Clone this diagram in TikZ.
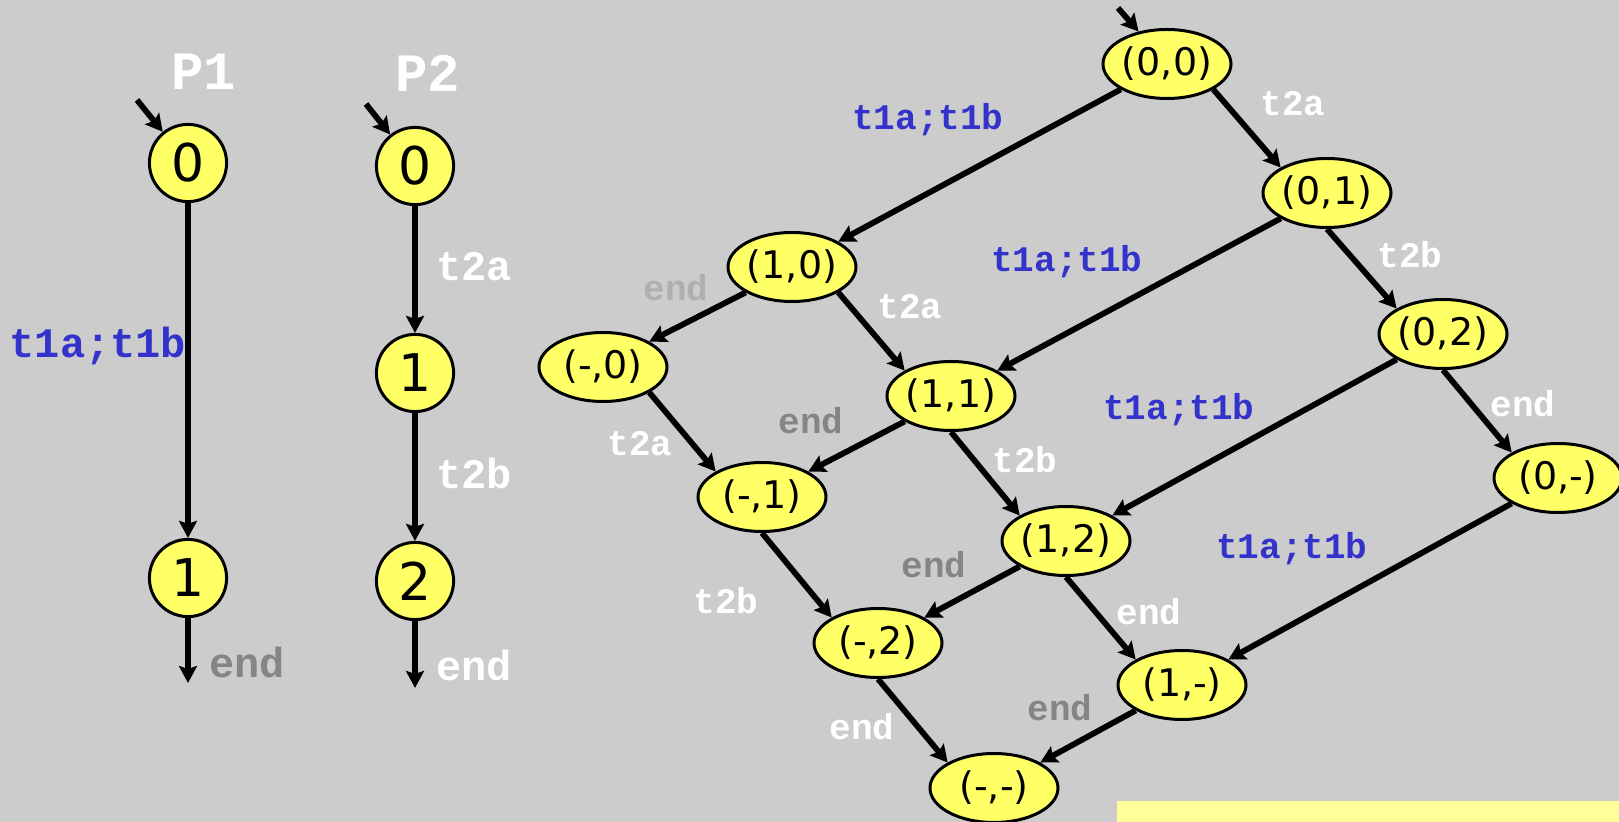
\documentclass[tikz,border=0pt]{standalone}
\usepackage{fontspec}
\setmainfont{DejaVu Sans}
\newfontfamily\labelfont{Liberation Mono}
\usetikzlibrary{arrows.meta,shapes.geometric}

\definecolor{bggray}{HTML}{CCCCCC}
\definecolor{stateyellow}{HTML}{FFFF66}
\definecolor{noteyellow}{HTML}{FFFF99}
\definecolor{trblue}{HTML}{3333CC}
\definecolor{enddark}{HTML}{858585}
\definecolor{endlight}{HTML}{AFAFAF}

\tikzset{
  statebox/.style={ellipse, draw, line width=1.5pt, fill=stateyellow,
    minimum width=64pt, minimum height=34.5pt, inner sep=0pt,
    font=\fontsize{19}{19}\selectfont},
  locbox/.style={circle, draw, line width=1.5pt, fill=stateyellow,
    minimum size=38.6pt, inner sep=0pt,
    font=\fontsize{26}{26}\selectfont},
  trans/.style={line width=2.9pt,
    -{Stealth[length=8.5pt, width=9pt, inset=1.5pt]}},
  lbl/.style={inner sep=0pt, font=\labelfont\bfseries\fontsize{18}{18}\selectfont},
  biglbl/.style={inner sep=0pt, font=\labelfont\bfseries\fontsize{21}{21}\selectfont},
  title/.style={inner sep=0pt, text=white, font=\labelfont\bfseries\fontsize{27}{27}\selectfont},
}

\begin{document}
\begin{tikzpicture}[x=0.5pt, y=-0.5pt]
  % canvas
  \fill[bggray] (0,0) rectangle (1619,822);
  \useasboundingbox (0,0) rectangle (1619,822);

  % ---------- process P1 ----------
  \node[title] (tP1) at (204,72) {P1};
  \node[locbox] (p10) at (188,163) {0};
  \node[locbox] (p11) at (188,578) {1};
  \coordinate (p1in) at (137,100);
  \coordinate (p1out) at (188,683);
  \draw[trans] (p1in) -- (p10);
  \draw[trans] (p10) -- (p11);
  \draw[trans] (p11) -- (p1out);
  \node[biglbl, text=trblue] (lP1a) at (98,346) {t1a;t1b};
  \node[biglbl, text=enddark] (lP1b) at (247,662) {end};

  % ---------- process P2 ----------
  \node[title] (tP2) at (428,73) {P2};
  \node[locbox] (p20) at (415,166) {0};
  \node[locbox] (p21) at (415,373) {1};
  \node[locbox] (p22) at (415,581) {2};
  \coordinate (p2in) at (366,104);
  \coordinate (p2out) at (415,688);
  \draw[trans] (p2in) -- (p20);
  \draw[trans] (p20) -- (p21);
  \draw[trans] (p21) -- (p22);
  \draw[trans] (p22) -- (p2out);
  \node[biglbl, text=white] (lP2a) at (474,267) {t2a};
  \node[biglbl, text=white] (lP2b) at (474,473) {t2b};
  \node[biglbl, text=white] (lP2c) at (474,665) {end};

  % ---------- product system ----------
  \node[statebox] (s00) at (1167,64)  {(0,0)};
  \node[statebox] (s01) at (1327,193) {(0,1)};
  \node[statebox] (s02) at (1443,334) {(0,2)};
  \node[statebox] (s0m) at (1558,478) {(0,-)};
  \node[statebox] (s10) at (792,267)  {(1,0)};
  \node[statebox] (s11) at (951,396)  {(1,1)};
  \node[statebox] (s12) at (1066,541) {(1,2)};
  \node[statebox] (s1m) at (1182,685) {(1,-)};
  \node[statebox] (sm0) at (603,367)  {(-,0)};
  \node[statebox] (sm1) at (762,497)  {(-,1)};
  \node[statebox] (sm2) at (878,643)  {(-,2)};
  \node[statebox] (smm) at (994,788)  {(-,-)};

  \coordinate (sin) at (1118,8);
  \draw[trans] (sin) -- (s00);

  % P1 steps (down-left)
  \draw[trans] (s00.south west) -- (s10.north east);
  \draw[trans] (s01.south west) -- (s11.north east);
  \draw[trans] (s02.south west) -- (s12.north east);
  \draw[trans] (s0m.south west) -- (s1m.north east);
  \draw[trans] (s10.south west) -- (sm0.north east);
  \draw[trans] (s11.south west) -- (sm1.north east);
  \draw[trans] (s12.south west) -- (sm2.north east);
  \draw[trans] (s1m.south west) -- (smm.north east);
  % P2 steps (down-right)
  \draw[trans] (s00.south east) -- (s01.north west);
  \draw[trans] (s01.south) -- (s02.north west);
  \draw[trans] (s02.south) -- (s0m.north west);
  \draw[trans] (s10.south east) -- (s11.north west);
  \draw[trans] (s11.south) -- (s12.north west);
  \draw[trans] (s12.south) -- (s1m.north west);
  \draw[trans] (sm0.south east) -- (sm1.north west);
  \draw[trans] (sm1.south) -- (sm2.north west);
  \draw[trans] (sm2.south) -- (smm.north west);

  % transition labels
  \node[lbl, text=trblue] (l1) at (928,120)  {t1a;t1b};
  \node[lbl, text=trblue] (l2) at (1067,262) {t1a;t1b};
  \node[lbl, text=trblue] (l3) at (1179,410) {t1a;t1b};
  \node[lbl, text=trblue] (l4) at (1292,549) {t1a;t1b};
  \node[lbl, text=white] (l5) at (1293,104) {t2a};
  \node[lbl, text=white] (l6) at (1410,255) {t2b};
  \node[lbl, text=white] (l7) at (1523,404) {end};
  \node[lbl, text=white] (l8) at (910,307)  {t2a};
  \node[lbl, text=white] (l9) at (1025,460) {t2b};
  \node[lbl, text=white] (l10) at (1149,612) {end};
  \node[lbl, text=white] (l11) at (640,444) {t2a};
  \node[lbl, text=white] (l12) at (726,601) {t2b};
  \node[lbl, text=white] (l13) at (862,727) {end};
  \node[lbl, text=endlight] (l14) at (676,288) {end};
  \node[lbl, text=enddark] (l15) at (811,421) {end};
  \node[lbl, text=enddark] (l16) at (934,565) {end};
  \node[lbl, text=enddark] (l17) at (1060,708) {end};

  % note box running off the lower edge
  \fill[noteyellow] (1117,801) rectangle (1619,822);
\end{tikzpicture}
\end{document}
